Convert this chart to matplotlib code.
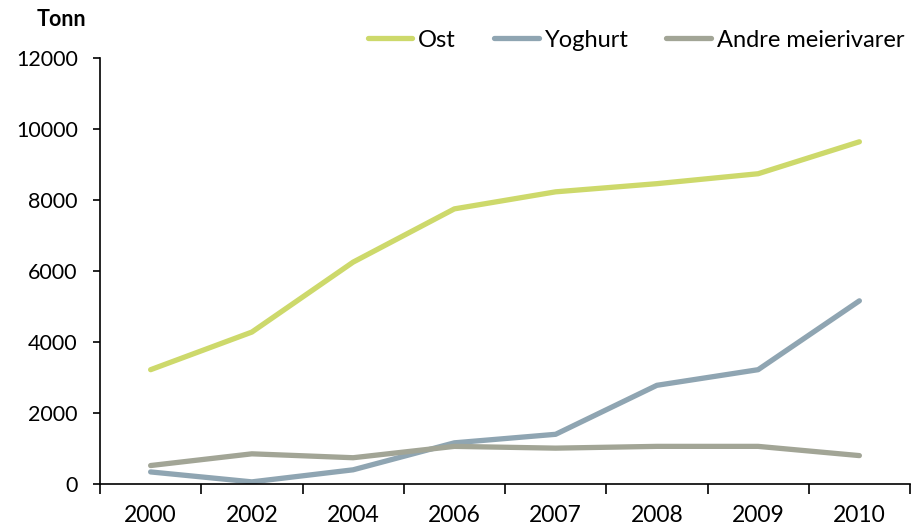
import numpy as np
from matplotlib import pyplot as plt

# data
years = ['2000', '2002', '2004', '2006', '2007', '2008', '2009', '2010']
ost = [3220, 4280, 6250, 7750, 8230, 8460, 8740, 9640]
yoghurt = [340, 60, 400, 1160, 1400, 2780, 3220, 5160]
andre = [520, 850, 740, 1060, 1010, 1060, 1060, 800]

plt.rcParams['font.family'] = ['Lato', 'DejaVu Sans']

fig = plt.figure(figsize=(9.11, 5.29), dpi=100)
ax = fig.add_axes([100 / 911, 1 - 484 / 529, 810 / 911, 426 / 529])

x = np.arange(len(years))
ax.plot(x, ost, color='#CDD96B', lw=3.8, solid_capstyle='round', label='Ost')
ax.plot(x, yoghurt, color='#8FA5B2', lw=3.8, solid_capstyle='round', label='Yoghurt')
ax.plot(x, andre, color='#A2A596', lw=3.8, solid_capstyle='round', label='Andre meierivarer')

ax.set_xlim(-0.5, len(years) - 0.5)
ax.set_ylim(0, 12000)
ax.set_yticks(range(0, 12001, 2000))
ax.tick_params(axis='y', labelsize=15.5, length=5, width=1.2, pad=11, direction='out')

# Excel-style: ticks between categories, labels centred
ax.set_xticks(np.arange(-0.5, len(years), 1))
ax.set_xticklabels([])
ax.set_xticks(x, minor=True)
ax.set_xticklabels(years, minor=True)
ax.tick_params(axis='x', which='major', length=7, width=1.2, direction='out')
ax.tick_params(axis='x', which='minor', length=0, labelsize=16.5, pad=15)

for s in ['top', 'right']:
    ax.spines[s].set_visible(False)
for s in ['left', 'bottom']:
    ax.spines[s].set_linewidth(1.2)

fig.text(61 / 911, 1 - 20 / 529, 'Tonn', fontsize=15.5, fontweight='bold', ha='center', va='center')

fig.legend(loc='center right', bbox_to_anchor=(914 / 911, 1 - 40 / 529), ncol=3, frameon=False,
           fontsize=17, handlelength=1.9, handletextpad=0.25, columnspacing=1.6, borderaxespad=0)

plt.savefig('out.png', dpi=100)
